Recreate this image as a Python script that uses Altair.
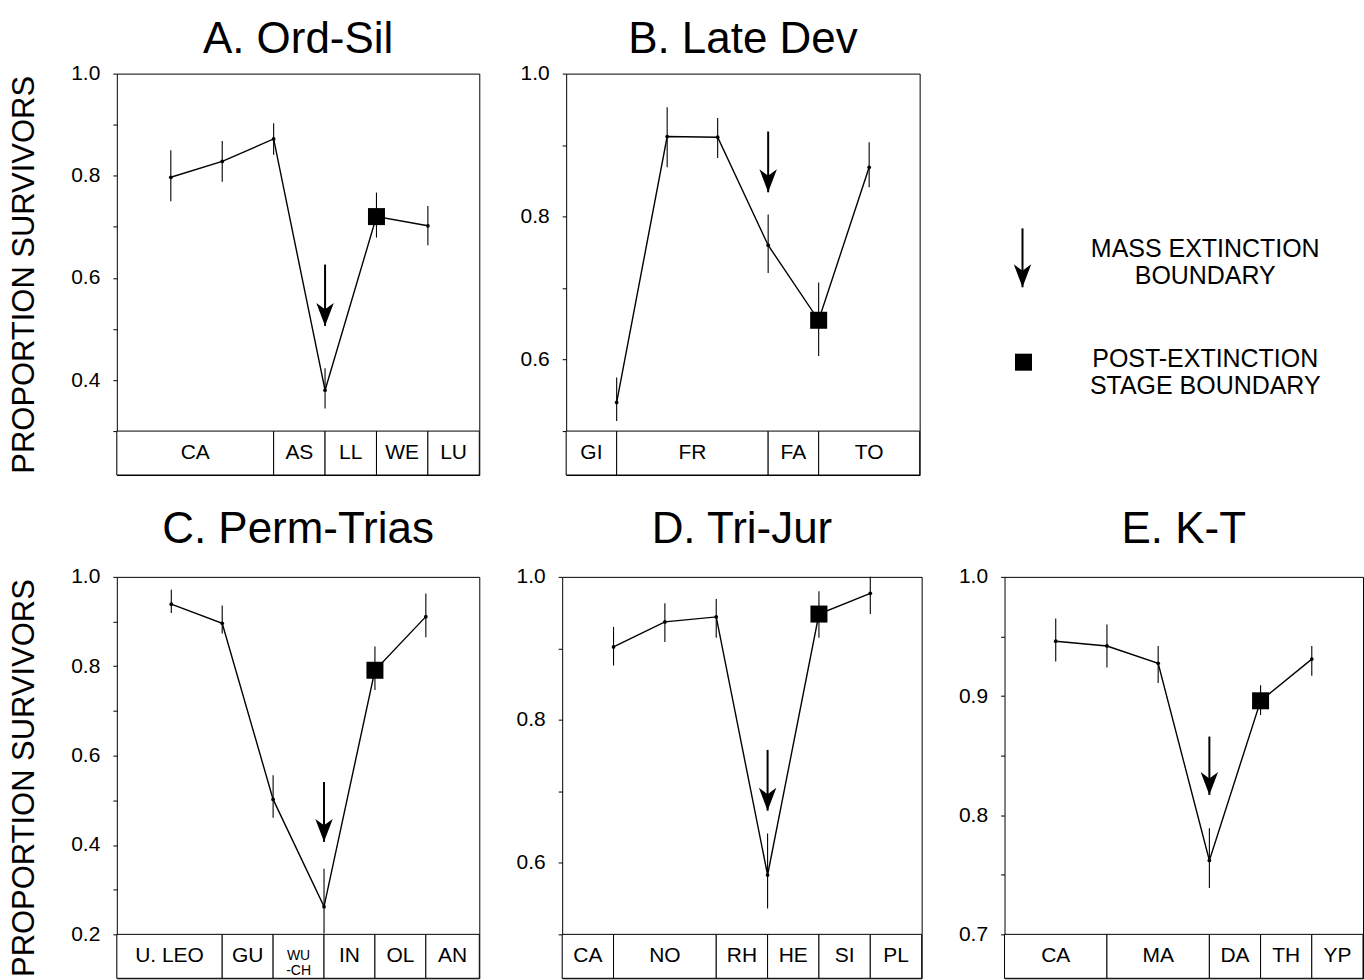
import altair as alt
import pandas as pd

FONT = "Liberation Sans"
DATA_H = 358
BAND_H = 44

# ---------------- data ----------------
titles = ["A. Ord-Sil", "B. Late Dev", "C. Perm-Trias", "D. Tri-Jur", "E. K-T"]
y_title = "PROPORTION SURVIVORS"

# A. Ord-Sil
a_x = [0, 1, 2, 3, 4, 5]
a_val = [0.797, 0.828, 0.872, 0.380, 0.720, 0.702]
a_low = [0.750, 0.788, 0.841, 0.344, 0.679, 0.664]
a_high = [0.850, 0.868, 0.903, 0.423, 0.767, 0.741]
a_stages = ["CA", "AS", "LL", "WE", "LU"]
a_bounds = [-1.05, 2, 3, 4, 5, 6]
a_arrow = [0.626, 0.506]
a_range = [0.3, 1.0]
a_ticks = [0.3, 0.4, 0.5, 0.6, 0.7, 0.8, 0.9, 1.0]

# B. Late Dev
b_x = [0, 1, 2, 3, 4, 5]
b_val = [0.540, 0.912, 0.911, 0.760, 0.655, 0.869]
b_low = [0.514, 0.869, 0.882, 0.721, 0.605, 0.841]
b_high = [0.575, 0.953, 0.938, 0.803, 0.708, 0.904]
b_stages = ["GI", "FR", "FA", "TO"]
b_bounds = [-1, 0, 3, 4, 6]
b_arrow = [0.919, 0.834]
b_range = [0.5, 1.0]
b_ticks = [0.5, 0.6, 0.7, 0.8, 0.9, 1.0]

# C. Perm-Trias
c_x = [0, 1, 2, 3, 4, 5]
c_val = [0.939, 0.896, 0.502, 0.262, 0.791, 0.911]
c_low = [0.919, 0.873, 0.461, 0.202, 0.747, 0.865]
c_high = [0.971, 0.936, 0.556, 0.347, 0.844, 0.963]
c_stages = ["U. LEO", "GU", "WU\n-CH", "IN", "OL", "AN"]
c_bounds = [-1.07, 1, 2, 3, 4, 5, 6.05]
c_arrow = [0.541, 0.407]
c_range = [0.2, 1.0]
c_ticks = [0.2, 0.3, 0.4, 0.5, 0.6, 0.7, 0.8, 0.9, 1.0]

# D. Tri-Jur
d_x = [0, 1, 2, 3, 4, 5]
d_val = [0.902, 0.937, 0.944, 0.583, 0.948, 0.977]
d_low = [0.876, 0.909, 0.915, 0.536, 0.915, 0.948]
d_high = [0.930, 0.963, 0.969, 0.641, 0.980, 1.000]
d_stages = ["CA", "NO", "RH", "HE", "SI", "PL"]
d_bounds = [-1, 0, 2, 3, 4, 5, 6]
d_arrow = [0.758, 0.673]
d_range = [0.5, 1.0]
d_ticks = [0.5, 0.6, 0.7, 0.8, 0.9, 1.0]

# E. K-T
e_x = [0, 1, 2, 3, 4, 5]
e_val = [0.946, 0.942, 0.9275, 0.762, 0.896, 0.931]
e_low = [0.929, 0.924, 0.911, 0.739, 0.884, 0.917]
e_high = [0.965, 0.960, 0.942, 0.789, 0.909, 0.942]
e_stages = ["CA", "MA", "DA", "TH", "YP"]
e_bounds = [-1, 1, 3, 4, 5, 6]
e_arrow = [0.866, 0.817]
e_range = [0.7, 1.0]
e_ticks = [0.7, 0.75, 0.8, 0.85, 0.9, 0.95, 1.0]

legend_lines = ["MASS EXTINCTION\nBOUNDARY", "POST-EXTINCTION\nSTAGE BOUNDARY"]

ARROW_HEAD = "M0,0L-0.38,-1L0,-0.72L0.38,-1Z"


def panel(title, xs, val, low, high, stages, bounds, arrow, yr, ticks, step,
          width, with_title, toff):
    lo, hi = yr
    ext = lo - BAND_H / DATA_H * (hi - lo)
    pts = pd.DataFrame({"x": xs, "v": val, "lo": low, "hi": high,
                        "post": [i == 4 for i in range(len(xs))]})
    st = pd.DataFrame({"name": stages, "x0": bounds[:-1], "x1": bounds[1:]})
    st["xm"] = (st["x0"] + st["x1"]) / 2
    st["y0"] = ext
    st["y1"] = lo
    st["ym"] = (ext + lo) / 2
    st["fs"] = [14 if "\n" in s else 21 for s in stages]
    ar = pd.DataFrame({"x": [xs[3]], "top": [arrow[0]], "tip": [arrow[1]]})

    xsc = alt.Scale(domain=[bounds[0], bounds[-1]], nice=False, zero=False)
    ysc = alt.Scale(domain=[ext, hi], nice=False, zero=False)
    axis_kw = dict(values=ticks,
                   labelExpr=f"round(datum.value*100) % {step} == 0 ? format(datum.value, '.1f') : ''",
                   grid=False, domain=False, tickSize=4, tickColor="black",
                   labelPadding=13, labelFontSize=21, labelFont=FONT,
                   labelColor="black", labelBaseline="middle")
    if with_title:
        yaxis = alt.Axis(title=y_title, titleFontSize=31, titleFont=FONT,
                         titleFontWeight="normal", titleColor="black",
                         titlePadding=30, **axis_kw)
    else:
        yaxis = alt.Axis(title=None, **axis_kw)

    def X(f):
        return alt.X(f, scale=xsc, axis=None)

    def Y(f):
        return alt.Y(f, scale=ysc, axis=yaxis)

    band = alt.Chart(st).mark_rect(fill="white", stroke="black", strokeWidth=1).encode(
        x=X("x0:Q"), x2="x1", y=Y("y0:Q"), y2="y1")
    band_txt = alt.Chart(st).mark_text(font=FONT, color="black", lineBreak="\n",
                                       lineHeight=15, baseline="middle",
                                       align="center").encode(
        x=X("xm:Q"), y=Y("ym:Q"), text="name:N",
        size=alt.Size("fs:Q", scale=None, legend=None))
    err = alt.Chart(pts).mark_rule(color="black", strokeWidth=1.1).encode(
        x=X("x:Q"), y=Y("lo:Q"), y2="hi")
    line = alt.Chart(pts).mark_line(color="black", strokeWidth=1.4).encode(
        x=X("x:Q"), y=Y("v:Q"))
    dots = alt.Chart(pts).mark_point(filled=True, color="black", size=14, opacity=1).encode(
        x=X("x:Q"), y=Y("v:Q"))
    sq = alt.Chart(pts).transform_filter("datum.post").mark_square(
        color="black", size=290, opacity=1).encode(x=X("x:Q"), y=Y("v:Q"))
    shaft = alt.Chart(ar).mark_rule(color="black", strokeWidth=2).encode(
        x=X("x:Q"), y=Y("top:Q"), y2="tip")
    head = alt.Chart(ar).mark_point(shape=ARROW_HEAD, size=2116, filled=True,
                                    color="black", opacity=1, strokeWidth=0).encode(
        x=X("x:Q"), y=Y("tip:Q"))

    return alt.layer(band, band_txt, err, line, dots, sq, shaft, head).properties(
        width=width, height=DATA_H + BAND_H,
        title=alt.TitleParams(title, fontSize=44, font=FONT, fontWeight="normal",
                              color="black", anchor="middle", offset=toff))


pA = panel(titles[0], a_x, a_val, a_low, a_high, a_stages, a_bounds, a_arrow,
           a_range, a_ticks, 20, 363, True, 1)
pB = panel(titles[1], b_x, b_val, b_low, b_high, b_stages, b_bounds, b_arrow,
           b_range, b_ticks, 20, 354, False, 1)
pC = panel(titles[2], c_x, c_val, c_low, c_high, c_stages, c_bounds, c_arrow,
           c_range, c_ticks, 20, 363, True, 14)
pD = panel(titles[3], d_x, d_val, d_low, d_high, d_stages, d_bounds, d_arrow,
           d_range, d_ticks, 20, 360, False, 14)
pE = panel(titles[4], e_x, e_val, e_low, e_high, e_stages, e_bounds, e_arrow,
           e_range, e_ticks, 10, 359, False, 14)

# ---------------- legend ----------------
one = pd.DataFrame({"k": [0]})
lg_shaft = alt.Chart(one).mark_rule(color="black", strokeWidth=2).encode(
    x=alt.value(62), y=alt.value(155), y2=alt.value(214))
lg_head = alt.Chart(one).mark_point(shape=ARROW_HEAD, size=2116, filled=True,
                                    color="black", opacity=1, strokeWidth=0).encode(
    x=alt.value(62), y=alt.value(214))
lg_sq = alt.Chart(one).mark_square(color="black", size=290, opacity=1).encode(
    x=alt.value(63), y=alt.value(289))
lg_t1 = alt.Chart(pd.DataFrame({"t": [legend_lines[0]]})).mark_text(
    font=FONT, fontSize=25, color="black", align="center", baseline="middle",
    lineBreak="\n", lineHeight=27).encode(x=alt.value(245), y=alt.value(176), text="t:N")
lg_t2 = alt.Chart(pd.DataFrame({"t": [legend_lines[1]]})).mark_text(
    font=FONT, fontSize=25, color="black", align="center", baseline="middle",
    lineBreak="\n", lineHeight=27).encode(x=alt.value(245), y=alt.value(286), text="t:N")
legend = alt.layer(lg_shaft, lg_head, lg_sq, lg_t1, lg_t2).properties(
    width=380, height=DATA_H + BAND_H,
    view=alt.ViewBackground(stroke="transparent"))

row1 = alt.hconcat(pA, pB, legend, spacing=39)
row2 = alt.hconcat(pC, pD, pE, spacing=35)

chart = alt.vconcat(row1, row2, spacing=31).properties(
    padding={"left": 8, "top": 16, "right": 0, "bottom": 0},
    background="white",
).configure_view(stroke="black", strokeWidth=1)

chart.save("out.html", embed_options={"renderer": "svg", "actions": False})
